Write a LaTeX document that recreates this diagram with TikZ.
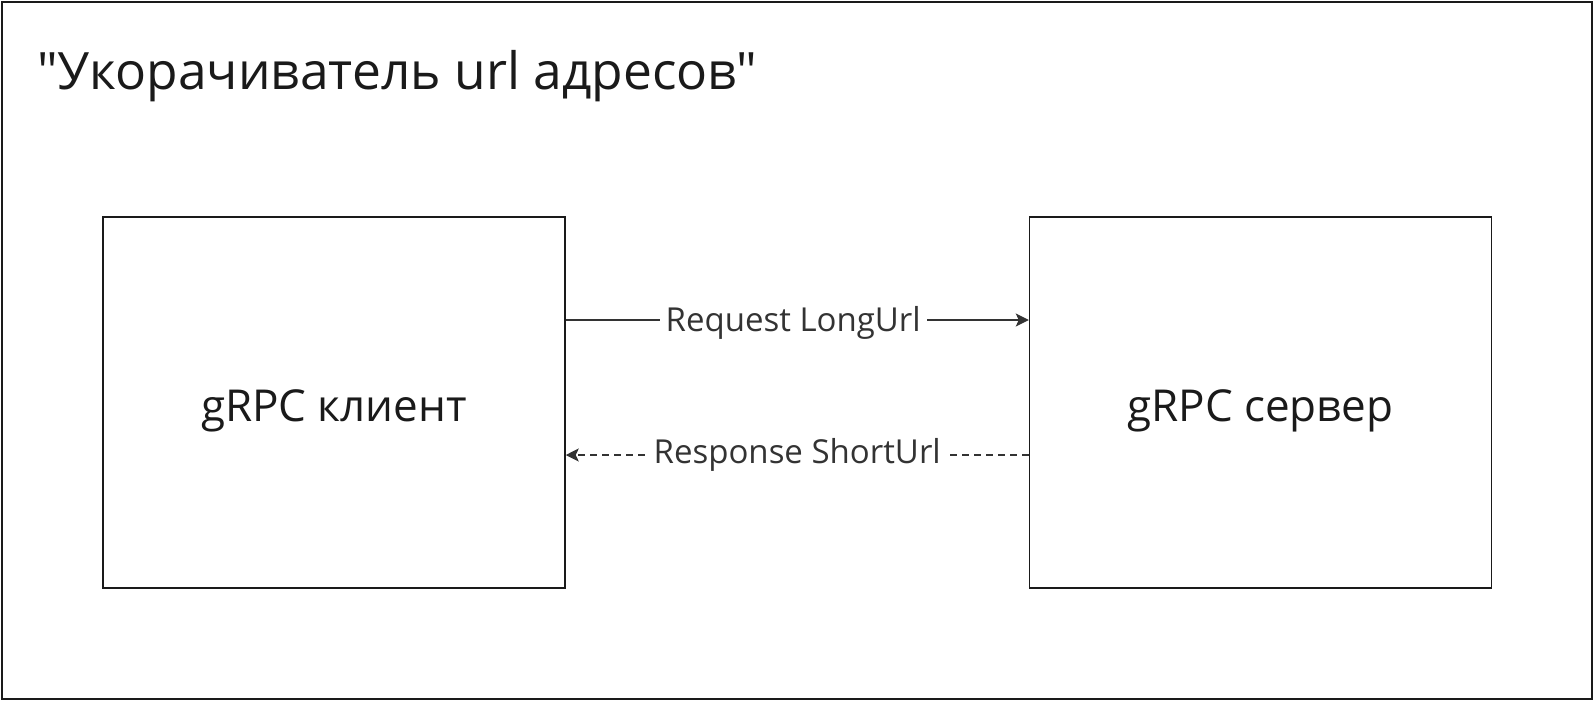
\documentclass[tikz,border=0pt]{standalone}
\usepackage{fontspec}
\setmainfont{Open Sans}[Ligatures=TeXOff]
\usepackage{xcolor}
\usetikzlibrary{arrows.meta,calc,positioning}

\definecolor{inkdark}{HTML}{1A1A1A}
\definecolor{inkgrey}{HTML}{333333}

\begin{document}
\begin{tikzpicture}[x=1pt,y=-1pt,
  frame/.style={draw=inkdark,line width=1.5pt},
  svcbox/.style={draw=inkdark,line width=1.5pt,minimum width=462pt,minimum height=371pt,
    font=\fontsize{44}{50}\selectfont,text=inkdark,inner sep=0pt},
  msg/.style={fill=white,font=\fontsize{33}{38}\selectfont,text=inkgrey,inner sep=6pt},
  link/.style={draw=inkgrey,line width=1.3pt,-{Stealth[length=13pt,width=13pt,inset=3pt]}}]
\useasboundingbox (0,0) rectangle (1594,701);
\draw[frame] (2,2) rectangle (1592,699);
\node[anchor=west,font=\fontsize{51.5}{60}\selectfont,text=inkdark,inner sep=0pt] (title) at (37,76) {"Укорачиватель url адресов"};
\node[svcbox,text depth=0pt] (client) at (334,402.5) {\raisebox{-6pt}{gRPC клиент}};
\node[svcbox,text depth=0pt] (server) at (1260.5,402.5) {\raisebox{-6pt}{gRPC сервер}};
% request / response
\draw[link] (client.east |- 0,320) -- node[msg,yshift=-3pt,xshift=-4pt] (req) {Request LongUrl} (server.west |- 0,320);
\draw[link,dash pattern=on 7pt off 5pt] (server.west |- 0,455) -- node[msg] (resp) {Response ShortUrl} (client.east |- 0,455);
\end{tikzpicture}
\end{document}
